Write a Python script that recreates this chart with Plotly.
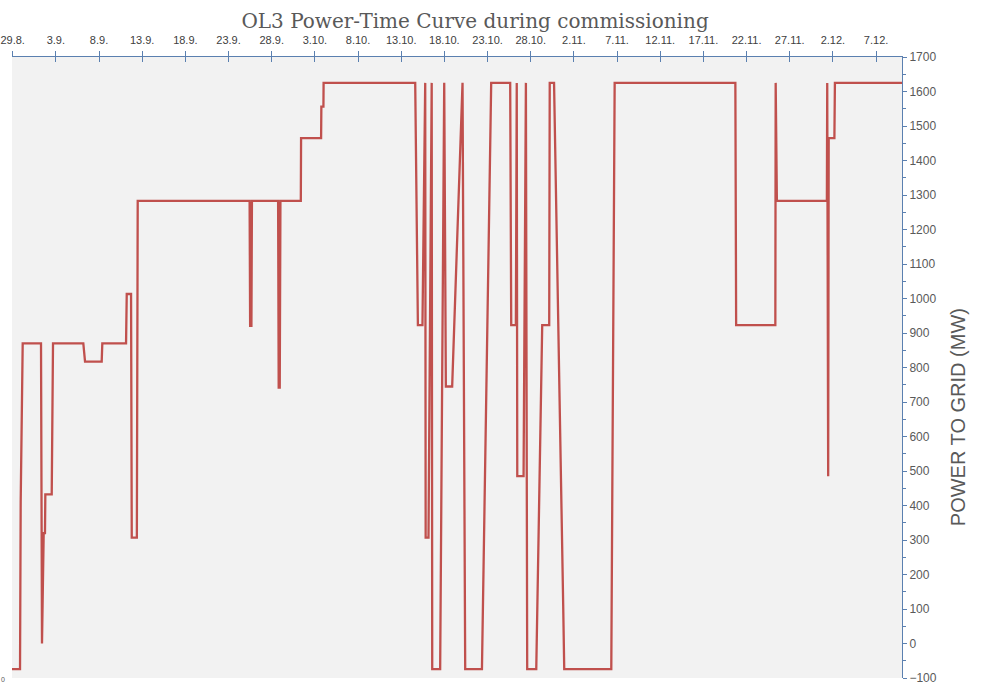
import plotly.graph_objects as go

# ---- data ----
times = [
    "2022-08-28 22:05", "2022-08-29 20:24", "2022-08-29 22:15", "2022-08-30 03:49",
    "2022-09-01 06:43", "2022-09-01 09:29", "2022-09-01 14:10", "2022-09-01 17:46",
    "2022-09-01 18:43", "2022-09-02 12:29", "2022-09-02 16:05", "2022-09-06 04:19",
    "2022-09-06 09:07", "2022-09-08 07:26", "2022-09-08 09:07", "2022-09-11 03:07",
    "2022-09-11 05:02", "2022-09-11 17:02", "2022-09-11 18:58", "2022-09-12 09:07",
    "2022-09-12 11:31", "2022-09-25 10:34", "2022-09-25 12:00", "2022-09-25 15:36",
    "2022-09-25 17:02", "2022-09-28 17:46", "2022-09-28 19:26", "2022-09-28 22:19",
    "2022-09-29 00:14", "2022-10-01 08:53", "2022-10-01 09:36", "2022-10-03 17:17",
    "2022-10-03 18:00", "2022-10-03 23:46", "2022-10-04 00:14", "2022-10-14 14:53",
    "2022-10-14 22:19", "2022-10-15 11:02", "2022-10-15 18:43", "2022-10-15 19:55",
    "2022-10-16 03:50", "2022-10-16 12:43", "2022-10-16 14:10", "2022-10-17 12:14",
    "2022-10-17 23:31", "2022-10-18 04:05", "2022-10-18 21:36", "2022-10-20 02:24",
    "2022-10-20 09:50", "2022-10-22 08:24", "2022-10-23 10:05", "2022-10-25 14:53",
    "2022-10-25 17:46", "2022-10-26 06:43", "2022-10-26 09:07", "2022-10-26 10:34",
    "2022-10-27 04:05", "2022-10-27 10:34", "2022-10-27 14:10", "2022-10-28 15:22",
    "2022-10-29 07:55", "2022-10-30 03:22", "2022-10-30 04:48", "2022-10-30 16:48",
    "2022-10-31 18:14", "2022-10-31 21:07", "2022-11-06 07:55", "2022-11-06 17:17",
    "2022-11-20 16:48", "2022-11-20 18:58", "2022-11-25 07:55", "2022-11-25 08:53",
    "2022-11-25 12:14", "2022-12-01 07:12", "2022-12-01 08:10", "2022-12-01 10:48",
    "2022-12-01 12:14", "2022-12-02 04:05", "2022-12-02 05:31", "2022-12-10 00:00",
]
power_mw = [
    -74, -74, 410, 870,
    870, 0, 320, 320,
    432, 432, 870, 870,
    817, 817, 870, 870,
    1013, 1013, 307, 307,
    1283, 1283, 921, 921,
    1283, 1283, 742, 742,
    1283, 1283, 1465, 1465,
    1556, 1556, 1625, 1625,
    923, 923, 1625, 307,
    307, 1625, -74, -74,
    1625, 745, 745, 1625,
    -74, -74, 1625, 1625,
    923, 923, 1625, 485,
    485, 1625, -74, -74,
    923, 923, 1625, 1625,
    110, -74, -74, 1625,
    1625, 923, 923, 1625,
    1283, 1283, 1625, 485,
    1465, 1465, 1625, 1625,
]
tick_dates = ["2022-08-29", "2022-09-03", "2022-09-08", "2022-09-13", "2022-09-18",
              "2022-09-23", "2022-09-28", "2022-10-03", "2022-10-08", "2022-10-13",
              "2022-10-18", "2022-10-23", "2022-10-28", "2022-11-02", "2022-11-07",
              "2022-11-12", "2022-11-17", "2022-11-22", "2022-11-27", "2022-12-02",
              "2022-12-07"]
tick_labels = ["29.8.", "3.9.", "8.9.", "13.9.", "18.9.", "23.9.", "28.9.", "3.10.",
               "8.10.", "13.10.", "18.10.", "23.10.", "28.10.", "2.11.", "7.11.",
               "12.11.", "17.11.", "22.11.", "27.11.", "2.12.", "7.12."]
x_range = ["2022-08-28 22:05", "2022-12-10 00:00"]
y_range = [-100, 1700]

AXIS = "#5b80b0"
TXT = "#595959"

fig = go.Figure()
fig.add_trace(go.Scatter(x=times, y=power_mw, mode="lines",
                         line=dict(color="#c0504d", width=2.3),
                         showlegend=False, hoverinfo="x+y"))
# invisible helper trace for the inner half of the crossing ticks
fig.add_trace(go.Scatter(x=[times[0]], y=[power_mw[0]], xaxis="x2", mode="lines",
                         line=dict(width=0), showlegend=False, hoverinfo="skip"))

fig.update_layout(
    width=998, height=688,
    margin=dict(l=12, r=96, t=57, b=10),
    paper_bgcolor="white", plot_bgcolor="#f2f2f2",
    title=dict(text="OL3 Power-Time Curve during commissioning",
               font=dict(family="DejaVu Serif", size=20, color=TXT),
               x=0.476, xanchor="center", y=0.98, yanchor="top"),
    xaxis=dict(type="date", range=x_range, side="top", automargin=False,
               tickmode="array", tickvals=tick_dates, ticktext=tick_labels,
               ticks="outside", ticklen=5, tickwidth=1, tickcolor=AXIS,
               ticklabelstandoff=3,
               showline=True, linecolor=AXIS, linewidth=1,
               showgrid=False, zeroline=False,
               tickfont=dict(family="Liberation Sans", size=11, color="#404040")),
    xaxis2=dict(type="date", matches="x", overlaying="x", side="top", automargin=False,
                tickmode="array", tickvals=tick_dates, ticktext=tick_labels,
                ticks="inside", ticklen=5, tickwidth=1, tickcolor=AXIS,
                showticklabels=False, showline=False, showgrid=False, zeroline=False),
    yaxis=dict(range=y_range, side="right", dtick=100, tick0=0, automargin=False,
               ticks="outside", ticklen=4, tickwidth=1, tickcolor=AXIS,
               minor=dict(dtick=50, ticks="outside", ticklen=3, tickcolor=AXIS, showgrid=False),
               showline=True, linecolor=AXIS, linewidth=1,
               showgrid=False, zeroline=False,
               tickfont=dict(family="Liberation Sans", size=12, color=TXT)),
    annotations=[
        dict(text="POWER TO GRID (MW)", xref="paper", yref="paper",
             x=1.0775, y=0.42, textangle=-90, showarrow=False,
             font=dict(family="Liberation Sans", size=20, color=TXT)),
        dict(text="0", xref="paper", yref="paper", x=-0.010, y=-0.002,
             showarrow=False, xanchor="center", yanchor="middle",
             font=dict(family="Liberation Sans", size=7, color=TXT)),
    ],
)

fig.write_html("out.html")
